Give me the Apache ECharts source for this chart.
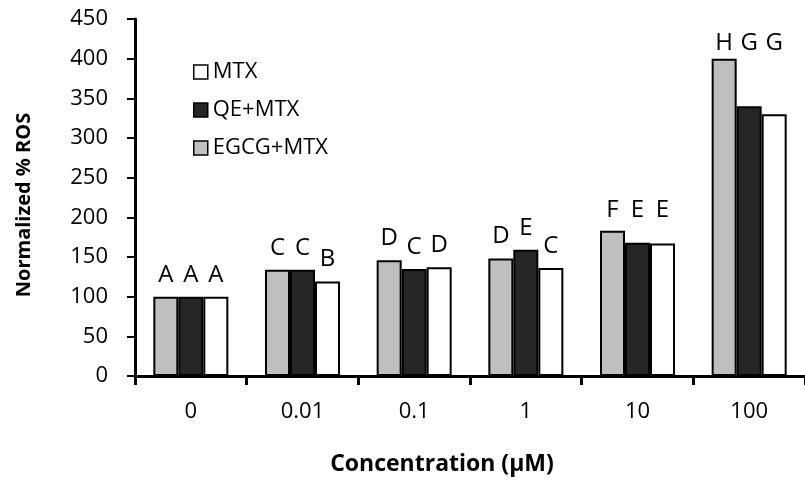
<!DOCTYPE html>
<html>
<head>
<meta charset="utf-8">
<script src="https://cdn.jsdelivr.net/npm/echarts@6/dist/echarts.min.js"></script>
<style>
html,body{margin:0;padding:0;background:#fff;}
#chart{width:805px;height:483px;}
</style>
</head>
<body>
<div id="chart"></div>
<script>
// ---- Data ----
const categories = ['0', '0.01', '0.1', '1', '10', '100'];
const egcgMtx = [100, 134, 146, 148, 183, 400];
const qeMtx   = [100, 134, 135, 159, 168, 340];
const mtx     = [100, 119, 137, 136, 167, 330];
const egcgLetters = ['A', 'C', 'D', 'D', 'F', 'H'];
const qeLetters   = ['A', 'C', 'C', 'E', 'E', 'G'];
const mtxLetters  = ['A', 'B', 'D', 'C', 'E', 'G'];
const yMin = 0, yMax = 450, yInterval = 50;

// ---- Style / layout ----
const FONT = '"Open Sans", "Segoe UI", sans-serif';
const gridTop = 19, gridBottom = 107, gridLeft = 135, gridRight = -10;
const H = 483;
const pxPerUnit = (H - gridTop - gridBottom) / (yMax - yMin);
const labelGap = [10, 10, 10, 10, 9, 4];           // px gap of letters above bar
const alignedGroups = [false, false, false, false, true, true]; // letters level across group

function groupMax(i) { return Math.max(egcgMtx[i], qeMtx[i], mtx[i]); }

function buildData(values, letters) {
  return values.map((v, i) => {
    let d = labelGap[i];
    if (alignedGroups[i]) d += (groupMax(i) - v) * pxPerUnit;
    return {
      value: v,
      label: { distance: d, formatter: letters[i] }
    };
  });
}

const seriesDefs = [
  { name: 'EGCG+MTX', values: egcgMtx, letters: egcgLetters, color: '#BFBFBF' },
  { name: 'QE+MTX',   values: qeMtx,   letters: qeLetters,   color: '#262626' },
  { name: 'MTX',      values: mtx,     letters: mtxLetters,  color: '#FFFFFF' }
];

const chart = echarts.init(document.getElementById('chart'), null, { renderer: 'canvas' });

const option = {
  animation: false,
  backgroundColor: '#fff',
  textStyle: { fontFamily: FONT },
  grid: { left: gridLeft, right: gridRight, top: gridTop, bottom: gridBottom, containLabel: false },
  legend: {
    data: ['MTX', 'QE+MTX', 'EGCG+MTX'],
    orient: 'vertical',
    left: 193,
    top: 61,
    padding: 0,
    itemWidth: 14,
    itemHeight: 14,
    itemGap: 16,
    icon: 'rect',
    itemStyle: { borderColor: '#000', borderWidth: 1.5 },
    textStyle: { fontFamily: FONT, fontSize: 22, lineHeight: 22, color: '#000' }
  },
  xAxis: {
    type: 'category',
    data: categories,
    boundaryGap: true,
    axisLine: { lineStyle: { color: '#000', width: 3 } },
    axisTick: { show: true, length: 9, lineStyle: { color: '#000', width: 3 }, alignWithLabel: false },
    axisLabel: { fontFamily: FONT, fontSize: 22, color: '#000', margin: 25 },
    splitLine: { show: false }
  },
  yAxis: {
    type: 'value',
    min: yMin,
    max: yMax,
    interval: yInterval,
    axisLine: { show: true, lineStyle: { color: '#000', width: 3 } },
    axisTick: { show: true, length: 8, lineStyle: { color: '#000', width: 2 } },
    axisLabel: { fontFamily: FONT, fontSize: 22, color: '#000', margin: 27 },
    splitLine: { show: false }
  },
  graphic: [
    {
      type: 'text',
      x: 24, y: 205,
      rotation: Math.PI / 2,
      style: {
        text: 'Normalized % ROS',
        font: 'bold 20px ' + FONT,
        fill: '#000',
        align: 'center',
        verticalAlign: 'middle'
      }
    },
    {
      type: 'text',
      x: 442, y: 464,
      style: {
        text: 'Concentration (\u00B5M)',
        font: 'bold 23px ' + FONT,
        fill: '#000',
        align: 'center',
        verticalAlign: 'middle'
      }
    }
  ],
  series: seriesDefs.map(s => ({
    name: s.name,
    type: 'bar',
    barWidth: 25,
    barGap: '0%',
    data: buildData(s.values, s.letters),
    itemStyle: { color: s.color, borderColor: '#000', borderWidth: 2 },
    label: {
      show: true,
      position: 'top',
      fontFamily: FONT,
      fontSize: 24,
      color: '#000'
    },
    emphasis: { disabled: true }
  }))
};

chart.setOption(option);
</script>
</body>
</html>
